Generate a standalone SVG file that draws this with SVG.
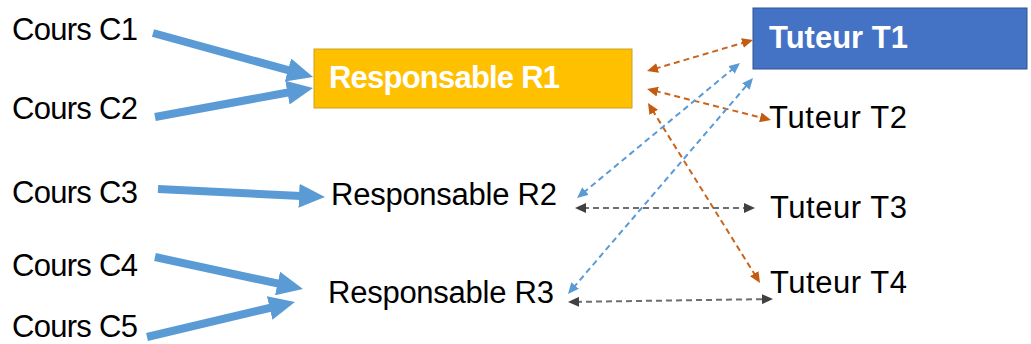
<svg xmlns="http://www.w3.org/2000/svg" width="1031" height="344" viewBox="0 0 1031 344">
<style>
text{font-family:"Liberation Sans",Arial,sans-serif;font-size:31px;fill:#000}
.w{fill:#fff;font-weight:bold}
.thick{stroke:#5B9BD5;stroke-width:8;fill:none}
.dash{stroke-width:2;fill:none;stroke-dasharray:6 4}
.or{stroke:#C9651E}
.bl{stroke:#5B9BD5}
.gr{stroke:#6E6E6E}
</style>
<defs>
<marker id="big" markerUnits="userSpaceOnUse" markerWidth="26" markerHeight="24" refX="2" refY="12" orient="auto"><path d="M0,0 L26,12 L0,24 z" fill="#5B9BD5"/></marker>
<marker id="mo" markerUnits="userSpaceOnUse" markerWidth="11" markerHeight="10" refX="3" refY="5" orient="auto-start-reverse"><path d="M0,0 L11,5 L0,10 z" fill="#C55A11"/></marker>
<marker id="mb" markerUnits="userSpaceOnUse" markerWidth="11" markerHeight="10" refX="3" refY="5" orient="auto-start-reverse"><path d="M0,0 L11,5 L0,10 z" fill="#5B9BD5"/></marker>
<marker id="mg" markerUnits="userSpaceOnUse" markerWidth="11" markerHeight="10" refX="3" refY="5" orient="auto-start-reverse"><path d="M0,0 L11,5 L0,10 z" fill="#404040"/></marker>
</defs>
<g id="C1"><text x="12" y="40" textLength="126">Cours C1</text></g>
<g id="C2"><text x="12" y="119" textLength="126">Cours C2</text></g>
<g id="C3"><text x="12" y="203" textLength="126">Cours C3</text></g>
<g id="C4"><text x="12" y="276" textLength="126">Cours C4</text></g>
<g id="C5"><text x="12" y="337" textLength="126">Cours C5</text></g>
<g id="R1"><rect x="314" y="49" width="318" height="59" fill="#FFC000" stroke="#C9A227" stroke-width="1"/><text class="w" x="329" y="88" textLength="231">Responsable R1</text></g>
<g id="R2"><text x="331" y="205" textLength="226">Responsable R2</text></g>
<g id="R3"><text x="328" y="303" textLength="226">Responsable R3</text></g>
<g id="T1"><rect x="753" y="8" width="274" height="61" fill="#4472C4" stroke="#2F528F" stroke-width="1"/><text class="w" x="769" y="48" textLength="139">Tuteur T1</text></g>
<g id="T2"><text x="769" y="128" textLength="138">Tuteur T2</text></g>
<g id="T3"><text x="770" y="218" textLength="137">Tuteur T3</text></g>
<g id="T4"><text x="770" y="293" textLength="137">Tuteur T4</text></g>
<g id="connectors">
<line class="thick" x1="153" y1="33" x2="289.9" y2="70.6" marker-end="url(#big)"/>
<line class="thick" x1="155" y1="117" x2="289.4" y2="92.3" marker-end="url(#big)"/>
<line class="thick" x1="158" y1="189" x2="301" y2="195.9" marker-end="url(#big)"/>
<line class="thick" x1="155" y1="257" x2="279.5" y2="283.9" marker-end="url(#big)"/>
<line class="thick" x1="147" y1="337" x2="271.6" y2="307.5" marker-end="url(#big)"/>
<line class="dash or" x1="654.7" y1="68.8" x2="745.3" y2="42.2" marker-start="url(#mo)" marker-end="url(#mo)"/>
<line class="dash or" x1="654.8" y1="90.9" x2="763.2" y2="118.1" marker-start="url(#mo)" marker-end="url(#mo)"/>
<line class="dash or" x1="652.2" y1="109.8" x2="755.8" y2="276.2" marker-start="url(#mo)" marker-end="url(#mo)"/>
<line class="dash bl" x1="583.2" y1="192.9" x2="733.8" y2="68.1" marker-start="url(#mb)" marker-end="url(#mb)"/>
<line class="dash bl" x1="573.2" y1="287.9" x2="747.8" y2="84.1" marker-start="url(#mb)" marker-end="url(#mb)"/>
<line class="dash gr" x1="583" y1="208" x2="747" y2="208" marker-start="url(#mg)" marker-end="url(#mg)"/>
<line class="dash gr" x1="576" y1="301.9" x2="765" y2="299.1" marker-start="url(#mg)" marker-end="url(#mg)"/>
</g>
</svg>
